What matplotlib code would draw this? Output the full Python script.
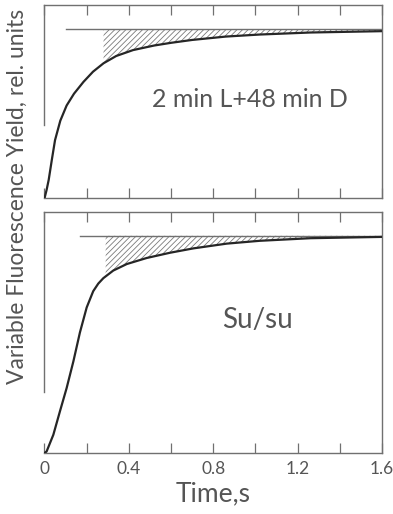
import numpy as np
import matplotlib
matplotlib.use("Agg")
import matplotlib.pyplot as plt
from matplotlib.ticker import MultipleLocator, FuncFormatter

plt.rcParams["font.family"] = ["Lato", "DejaVu Sans"]
plt.rcParams["hatch.linewidth"] = 0.6

# top panel: 2 min L + 48 min D
t_top = [0, 0.01, 0.02, 0.035, 0.05, 0.075, 0.105, 0.14, 0.185, 0.23, 0.28,
         0.34, 0.42, 0.52, 0.6, 0.7, 0.86, 1.02, 1.26, 1.6]
y_top = [0, 0.05, 0.11, 0.23, 0.345, 0.46, 0.55, 0.62, 0.69, 0.75, 0.80,
         0.843, 0.878, 0.905, 0.921, 0.938, 0.958, 0.97, 0.982, 0.99]

# bottom panel: Su/su
t_bot = [0, 0.01, 0.042, 0.073, 0.105, 0.137, 0.168, 0.2, 0.231, 0.255,
         0.279, 0.326, 0.39, 0.485, 0.595, 0.705, 0.864, 1.02, 1.26, 1.6]
y_bot = [0, 0.007, 0.084, 0.191, 0.299, 0.422, 0.555, 0.67, 0.745, 0.78,
         0.805, 0.84, 0.87, 0.898, 0.922, 0.942, 0.964, 0.977, 0.989, 0.995]

labels = ["2 min L+48 min D", "Su/su"]
fmax = [1.0, 1.0]
line_start = [0.10, 0.17]
hatch_start = [0.28, 0.29]

line_col = "#707070"
curve_col = "#262626"
text_col = "#555555"

fig = plt.figure(figsize=(3.93, 5.14), dpi=100)
ax1 = fig.add_axes([0.1132, 0.614, 0.8588, 0.376])
ax2 = fig.add_axes([0.1132, 0.1187, 0.8588, 0.469])

panels = [
    (ax1, t_top, y_top, 1.144, 0.434, (0.61, 0.51), 18),
    (ax2, t_bot, y_bot, 1.11, 0.282, (0.63, 0.553), 20),
]

for i, (ax, t, y, ytop, spine_lo, txt_pos, fs) in enumerate(panels):
    t = np.array(t)
    y = np.array(y)
    ax.plot(t, y, color=curve_col, lw=1.6, solid_capstyle="round",
            solid_joinstyle="round", zorder=3)
    ax.plot([line_start[i], 1.6], [fmax[i], fmax[i]], color=line_col, lw=1.0)
    m = t >= hatch_start[i]
    tt = np.concatenate([[hatch_start[i]], t[m]])
    yy = np.concatenate([[np.interp(hatch_start[i], t, y)], y[m]])
    ax.fill_between(tt, yy, fmax[i], facecolor="none", edgecolor="#7a7a7a",
                    hatch="//////", lw=0)
    ax.set_xlim(0, 1.6)
    ax.set_ylim(0, ytop)
    ax.set_yticks([])
    for s in ax.spines.values():
        s.set_color(line_col)
        s.set_linewidth(1.0)
    ax.spines["left"].set_bounds(spine_lo, ytop)
    ax.xaxis.set_major_locator(MultipleLocator(0.2))
    ax.tick_params(axis="x", direction="in", length=7, width=0.9,
                   color=line_col, top=True, bottom=True,
                   labelsize=12.5, labelcolor=text_col, pad=6)
    ax.text(txt_pos[0], txt_pos[1], labels[i], transform=ax.transAxes,
            ha="center", va="center", fontsize=fs, color=text_col)

ax1.tick_params(axis="x", labelbottom=False)


def fmt(v, pos):
    k = int(round(v / 0.2))
    if k % 2:
        return ""
    return "0" if k == 0 else "%.1f" % v


ax2.xaxis.set_major_formatter(FuncFormatter(fmt))
ax2.set_xlabel("Time,s", fontsize=19, color=text_col, labelpad=3)

fig.text(0.045, 0.617, "Variable Fluorescence Yield, rel. units",
         rotation=90, ha="center", va="center", fontsize=16.5,
         color=text_col)

fig.savefig("out.png", dpi=100)
